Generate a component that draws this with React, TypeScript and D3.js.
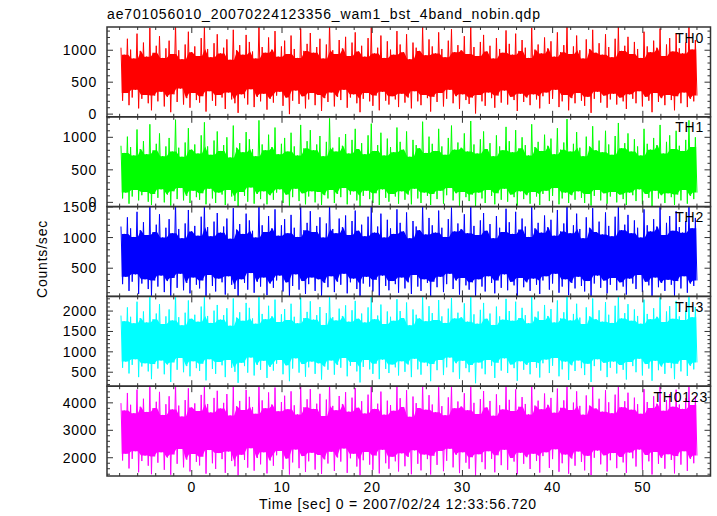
import React from "react";
import * as d3 from "d3";

const TITLE = "ae701056010_20070224123356_wam1_bst_4band_nobin.qdp";
const X_LABEL = "Time [sec] 0 = 2007/02/24 12:33:56.720";
const Y_LABEL = "Counts/sec";

const timeStart = -7.85;
const timeEnd = 56.0;
const xDomain: [number, number] = [-9.4, 57.5];
const xMajorTicks = [0, 10, 20, 30, 40, 50];
const xMinorStep = 2;

const bandNames = ["TH0", "TH1", "TH2", "TH3", "TH0123"];
const bandColors = ["#ff0000", "#00ff00", "#0000ff", "#00ffff", "#ff00ff"];
const yDomains: [number, number][] = [[-42, 1364], [-65, 1315], [40, 1505], [157, 2360], [1335, 4607]];
const yMajorTicks = [[0, 500, 1000], [0, 500, 1000], [500, 1000, 1500], [500, 1000, 1500, 2000], [2000, 3000, 4000]];
const yMinorSteps = [100, 100, 100, 100, 200];

const th0 = [
1040,210,930,330,1180,140,1010,260,870,380,1260,90,990,240,1120,300,900,170,1350,60,960,290,1070,200,
1220,350,880,120,1030,270,1150,30,940,310,1410,190,1000,400,860,150,1090,250,1290,100,970,330,1060,220,
910,180,1190,280,1380,40,1020,360,890,210,1110,130,1250,300,950,260,1040,80,1170,340,850,230,1320,170,
1000,20,1080,310,930,250,1240,150,1130,390,980,110,870,270,1400,200,1050,320,960,70,1200,240,1010,180,
1300,290,900,350,1060,130,1150,260,940,0,1230,210,1020,370,880,160,1340,280,990,90,1100,230,1270,330,
960,140,1050,300,1180,50,870,250,1090,190,1420,340,1000,120,940,270,1160,220,1030,380,1210,100,910,260,
1120,310,1280,170,980,30,1070,240,900,330,1190,200,1360,130,950,290,1040,60,1230,350,880,210,1140,150,
1010,280,930,230,1300,110,1090,320,970,180,1250,260,860,90,1120,360,1040,200,990,140,1370,300,920,250,
1170,40,1060,270,950,190,1280,330,1020,120,890,240,1150,380,1330,170,970,280,1080,80,1000,310,1220,220,
940,160,1390,260,1050,10,910,300,1130,200,1240,130,980,340,1070,250,870,100,1190,290,1020,180,960,370,
1310,150,1100,270,930,220,1260,50,990,320,1160,190,1040,260,880,140,1350,310,1010,230,1090,90,950,280,
1200,340,1030,160,1140,240,900,380,1280,110,970,200,1080,300,1410,60,940,250,1060,170,1230,330,1000,210,
870,130,1170,270,1020,20,1320,240,960,350,1110,180,930,290,1250,100,1050,230,890,320,1180,150,1370,260,
990,200,1070,80,1210,310,940,240,1130,170,1020,360,880,120,1290,270,1060,210,970,30,1150,330,1040,190,
1340,250,910,140,1090,300,1190,220,980,60,1260,280,1030,170,950,340,1120,110,1400,240,1010,200,1160,290
];

const th1 = [
870,60,760,150,1010,-20,850,90,720,190,1120,30,820,110,940,160,740,10,1200,-40,800,130,900,70,
1060,200,710,0,860,120,990,-50,780,170,1270,50,840,220,700,30,920,100,1140,-10,810,180,890,80,
750,40,1030,140,1230,-30,860,210,730,60,950,-10,1090,150,790,120,880,-40,1000,190,690,90,1180,20,
840,-60,910,160,770,100,1080,10,970,230,820,-20,710,130,1260,50,890,170,800,-30,1040,110,850,40,
1150,150,740,200,900,-10,990,120,780,-50,1070,80,860,210,720,20,1190,140,830,-30,940,90,1110,170,
800,0,890,160,1020,-40,710,110,930,60,1290,190,840,-10,780,130,1000,80,870,220,1050,-30,750,120,
960,170,1130,30,820,-60,910,100,740,180,1030,50,1210,-10,790,140,880,-40,1070,200,720,70,980,10,
850,130,770,90,1150,-20,930,170,810,40,1090,120,700,-30,960,210,880,60,830,-10,1240,150,760,100,
1010,-40,900,130,790,50,1130,180,860,-20,730,110,990,220,1180,30,810,140,920,-50,840,160,1060,80,
780,20,1250,120,890,-60,750,150,970,60,1090,-10,820,190,910,100,710,-30,1030,140,860,40,800,210,
1160,10,940,120,770,80,1110,-50,830,170,1000,50,880,110,720,-20,1200,160,850,90,930,-40,790,130,
1040,180,870,20,980,100,740,220,1140,-30,810,60,920,150,1280,-10,780,110,900,40,1080,170,840,70,
710,-10,1010,130,860,-50,1170,100,800,190,950,30,770,140,1100,-20,890,90,730,160,1020,0,1220,120,
830,50,910,-40,1060,150,780,110,970,20,860,200,720,-30,1130,130,900,70,810,-60,990,180,880,60,
1190,110,750,-10,930,140,1030,80,820,-40,1100,120,870,30,790,190,960,-20,1260,100,850,50,1000,150
];

const th2 = [
1180,240,1060,360,1330,130,1150,280,1010,400,1420,80,1120,250,1250,320,1040,160,1510,50,1090,300,1210,200,
1380,380,1000,110,1160,290,1300,20,1070,340,1570,180,1140,410,990,140,1230,260,1450,90,1100,350,1190,230,
1030,170,1340,300,1540,40,1170,390,1020,210,1260,120,1400,330,1080,270,1180,70,1310,370,980,230,1480,160,
1130,20,1220,320,1060,260,1390,150,1280,420,1110,100,1000,280,1560,200,1200,350,1090,60,1350,250,1150,180,
1460,300,1030,380,1200,120,1300,270,1070,30,1370,210,1160,400,1010,150,1500,290,1120,80,1240,240,1430,350,
1090,130,1190,320,1330,50,1000,260,1230,190,1590,370,1140,110,1070,280,1310,230,1170,410,1360,90,1040,270,
1270,330,1440,160,1110,20,1210,250,1020,360,1340,200,1520,120,1080,310,1180,50,1390,380,1000,210,1290,140,
1150,290,1060,240,1460,100,1240,350,1100,170,1410,270,990,80,1270,390,1180,200,1120,130,1530,320,1050,260,
1320,30,1200,280,1080,190,1440,360,1160,110,1010,240,1300,410,1490,160,1100,300,1230,70,1140,340,1380,220,
1070,150,1550,270,1190,20,1040,320,1280,200,1400,120,1110,370,1220,260,990,90,1350,300,1160,180,1090,400,
1470,140,1250,280,1060,220,1420,40,1130,340,1310,190,1180,270,1010,130,1510,330,1150,230,1240,80,1080,300,
1360,370,1170,150,1290,250,1030,410,1450,100,1100,200,1230,320,1580,60,1070,260,1200,170,1390,360,1140,210,
990,120,1330,290,1160,30,1480,250,1090,380,1260,180,1050,300,1410,90,1190,230,1020,340,1340,140,1530,270,
1120,200,1210,70,1370,330,1070,250,1280,160,1160,390,1000,110,1460,280,1200,220,1100,40,1300,350,1180,190,
1500,260,1040,130,1240,310,1350,230,1110,50,1430,290,1170,170,1080,370,1270,100,1560,250,1150,210,1320,300
];

const th3 = [
1890,610,1750,760,2090,470,1860,680,1700,820,2230,380,1830,640,1990,720,1720,520,2360,330,1800,700,1940,590,
2170,790,1680,450,1870,690,2040,260,1770,740,2420,560,1850,850,1650,500,1960,650,2260,400,1810,770,1910,600,
1740,530,2110,710,2380,300,1880,820,1710,580,2010,460,2150,750,1790,670,1900,380,2070,800,1640,610,2310,510,
1840,240,1970,730,1760,650,2200,490,2080,860,1820,420,1690,680,2410,560,1930,780,1800,360,2130,630,1870,540,
2280,710,1730,800,1920,450,2050,670,1780,280,2180,590,1860,840,1700,490,2330,700,1830,390,1980,620,2240,760,
1790,460,1900,720,2100,320,1660,640,1950,560,2440,790,1850,440,1770,680,2060,610,1880,850,2140,400,1740,660,
2020,750,2250,520,1810,250,1940,630,1720,800,2090,570,2340,460,1800,710,1890,330,2160,810,1680,580,1990,480,
1860,690,1760,620,2290,420,2000,770,1830,510,2210,690,1650,380,2040,830,1910,570,1820,440,2370,740,1750,650,
2120,280,1950,700,1780,550,2270,800,1870,430,1710,620,2060,860,2320,500,1820,720,1960,340,1850,780,2190,600,
1740,500,2400,680,1920,230,1690,740,2030,590,2200,450,1810,800,1940,660,1660,360,2110,730,1870,540,1790,840,
2300,480,2000,690,1760,600,2230,290,1830,770,2080,560,1900,680,1700,450,2350,750,1860,610,1990,370,1780,720,
2150,810,1880,480,2050,660,1720,850,2260,400,1820,570,1970,760,2430,310,1770,670,1930,530,2180,790,1840,600,
1680,430,2090,710,1870,260,2310,650,1800,820,2020,540,1740,730,2220,380,1910,610,1710,760,2130,470,2390,680,
1820,560,1950,320,2170,750,1760,650,2040,500,1880,830,1690,420,2280,700,1930,590,1800,290,2070,780,1860,550,
2340,640,1730,460,1990,730,2120,600,1810,330,2250,710,1870,520,1780,800,2010,410,2410,660,1850,570,2100,740
];

const th0123 = [
3990,1900,3720,2150,4360,1610,3930,1960,3620,2240,4480,1470,3860,1880,4150,2080,3670,1710,4650,1400,3810,2050,4040,1820,
4400,2200,3560,1560,3950,2010,4240,1380,3760,2120,4720,1780,3900,2320,3500,1650,4100,1930,4530,1500,3830,2140,3980,1850,
3700,1720,4290,2040,4680,1420,3960,2280,3650,1800,4180,1590,4440,2170,3790,1950,4000,1450,4320,2230,3540,1880,4590,1690,
3880,1360,4070,2110,3740,1920,4470,1640,4220,2350,3850,1530,3600,1990,4740,1760,4090,2200,3800,1430,4380,1900,3940,1710,
4560,2090,3690,2250,4030,1580,4260,1970,3770,1390,4420,1830,3910,2300,3580,1620,4610,2060,3840,1480,4130,1870,4500,2180,
3780,1570,3970,2100,4330,1410,3520,1940,4120,1790,4710,2220,3890,1520,3730,2010,4250,1860,3960,2340,4390,1450,3680,1980,
4190,2150,4540,1680,3820,1370,4060,1910,3610,2210,4300,1750,4660,1560,3780,2080,3970,1430,4410,2290,3570,1800,4080,1600,
3920,2040,3710,1870,4620,1500,4170,2160,3850,1690,4460,2030,3490,1400,4230,2270,3990,1780,3810,1540,4700,2120,3750,1950,
4280,1390,3940,2070,3660,1740,4570,2250,3880,1510,3550,1890,4200,2330,4640,1650,3800,2110,4050,1440,3870,2200,4350,1820,
3730,1600,4690,2020,4000,1350,3590,2130,4140,1840,4430,1580,3830,2240,4070,1960,3530,1470,4310,2090,3910,1730,3760,2290,
4600,1560,4110,1990,3700,1860,4490,1400,3860,2180,4210,1780,3960,2020,3580,1590,4670,2150,3900,1880,4080,1460,3770,2060,
4340,2200,3930,1630,4180,1950,3640,2310,4520,1490,3820,1800,4090,2120,4730,1420,3740,1970,4010,1710,4420,2230,3890,1850,
3570,1540,4270,2070,3900,1370,4580,2000,3790,2260,4150,1760,3680,2090,4460,1500,4020,1910,3620,2170,4300,1620,4630,2030,
3840,1830,4060,1450,4370,2190,3750,1980,4190,1680,3950,2300,3600,1560,4500,2100,4030,1870,3810,1390,4240,2210,3970,1780,
4660,1990,3710,1600,4100,2130,4320,1920,3860,1430,4480,2060,3940,1750,3780,2240,4170,1520,4700,1960,3920,1800,4250,2080
];

const seriesData = [th0, th1, th2, th3, th0123];

const W = 717;
const H = 516;
const plotLeft = 107;
const plotRight = 710.5;
const plotTop = 27;
const plotBottom = 476;
const FONT = "'Liberation Sans', Arial, Helvetica, sans-serif";
const FRAME = "#333333";
const LS = 0.8;

type Env = { x: number; t: number; b: number };

function Panel({ idx }: { idx: number }) {
  const n = seriesData.length;
  const ph = (plotBottom - plotTop) / n;
  const top = plotTop + idx * ph;
  const bottom = top + ph;
  const x = d3.scaleLinear().domain(xDomain).range([plotLeft, plotRight]);
  const y = d3.scaleLinear().domain(yDomains[idx]).range([bottom, top]);
  const vals = seriesData[idx];
  const tScale = d3.scaleLinear().domain([0, vals.length - 1]).range([timeStart, timeEnd]);
  const pts: [number, number][] = vals.map((v, i) => [x(tScale(i)), y(v)]);
  const line = d3.line()(pts) || "";

  const nPairs = Math.floor(vals.length / 2);
  const W2 = 1;
  const env: Env[] = [];
  for (let k = 0; k < nPairs; k++) {
    const his: number[] = [];
    const los: number[] = [];
    for (let j = Math.max(0, k - W2); j <= Math.min(nPairs - 1, k + W2); j++) {
      his.push(vals[2 * j]);
      los.push(vals[2 * j + 1]);
    }
    env.push({ x: x(tScale(2 * k + 0.5)), t: d3.min(his)!, b: d3.max(los)! });
  }
  const area =
    d3
      .area<Env>()
      .x((d) => d.x)
      .y0((d) => y(d.b))
      .y1((d) => y(d.t))(env) || "";

  const color = bandColors[idx];
  const clipId = `clip-${idx}`;
  const [d0, d1] = yDomains[idx];
  const step = yMinorSteps[idx];
  const minorY = d3.range(Math.ceil(d0 / step) * step, d1, step);
  const minorX = d3.range(Math.ceil(xDomain[0] / xMinorStep) * xMinorStep, xDomain[1], xMinorStep);
  const majL = 6;
  const minL = 3;

  return (
    <g>
      <clipPath id={clipId}>
        <rect x={plotLeft} y={top} width={plotRight - plotLeft} height={ph} />
      </clipPath>
      <g clipPath={`url(#${clipId})`}>
        <path d={area} fill={color} stroke="none" />
        <path d={line} fill="none" stroke={color} strokeWidth={1} />
      </g>
      {minorY.map((v) => {
        const isMaj = v % 500 === 0 || yMajorTicks[idx].includes(v);
        const L = isMaj ? majL : minL;
        const yy = y(v);
        return (
          <g key={`y${v}`}>
            <line x1={plotLeft} x2={plotLeft + L} y1={yy} y2={yy} stroke={FRAME} strokeWidth={1} />
            <line x1={plotRight} x2={plotRight - L} y1={yy} y2={yy} stroke={FRAME} strokeWidth={1} />
          </g>
        );
      })}
      {minorX.map((t) => {
        const isMaj = t % 10 === 0;
        const L = isMaj ? majL : minL;
        const xx = x(t);
        return (
          <g key={`x${t}`}>
            <line x1={xx} x2={xx} y1={top} y2={top + L} stroke={FRAME} strokeWidth={1} />
            <line x1={xx} x2={xx} y1={bottom} y2={bottom - L} stroke={FRAME} strokeWidth={1} />
          </g>
        );
      })}
      {yMajorTicks[idx].map((v) => (
        <text
          key={`yl${v}`}
          x={97}
          y={y(v) + 5}
          textAnchor="end"
          fontSize={14}
          letterSpacing={LS}
          fontFamily={FONT}
          fill="#000"
        >
          {v}
        </text>
      ))}
      <text
        x={idx === 4 ? 708 : 704}
        y={top + 15.5}
        textAnchor="end"
        fontSize={14}
        letterSpacing={LS}
        fontFamily={FONT}
        fill="#000"
      >
        {bandNames[idx]}
      </text>
      <rect x={plotLeft} y={top} width={plotRight - plotLeft} height={ph} fill="none" stroke={FRAME} strokeWidth={1.5} />
    </g>
  );
}

export default function App() {
  const x = d3.scaleLinear().domain(xDomain).range([plotLeft, plotRight]);
  return (
    <svg
      width={W}
      height={H}
      style={{ position: "absolute", left: 0, top: 0, background: "#fff" }}
      xmlns="http://www.w3.org/2000/svg"
    >
      <rect x={0} y={0} width={W} height={H} fill="#fff" />
      <text
        x={plotLeft}
        y={19}
        fontSize={14}
        textLength={433}
        lengthAdjust="spacing"
        fontFamily={FONT}
        fill="#000"
      >
        {TITLE}
      </text>
      {bandNames.map((_, i) => (
        <Panel key={i} idx={i} />
      ))}
      {xMajorTicks.map((t) => (
        <text key={t} x={x(t)} y={492} textAnchor="middle" fontSize={14} letterSpacing={LS} fontFamily={FONT} fill="#000">
          {t}
        </text>
      ))}
      <text x={398} y={509} textAnchor="middle" fontSize={14} letterSpacing={LS} fontFamily={FONT} fill="#000">
        {X_LABEL}
      </text>
      <text
        transform={`translate(47, 259) rotate(-90)`}
        textAnchor="middle"
        fontSize={14}
        letterSpacing={LS}
        fontFamily={FONT}
        fill="#000"
      >
        {Y_LABEL}
      </text>
    </svg>
  );
}
